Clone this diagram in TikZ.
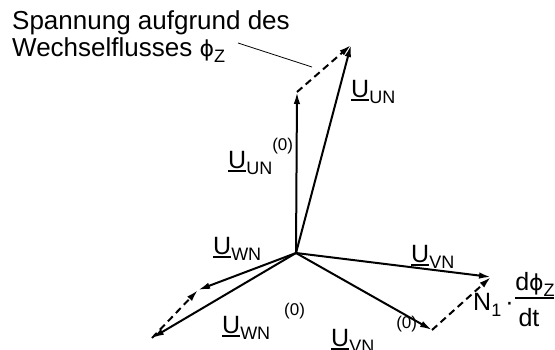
\documentclass[tikz,border=0pt]{standalone}
\usepackage{fontspec}
\setmainfont{Liberation Sans}
\newfontfamily\greekfont{DejaVu Sans}
\usetikzlibrary{arrows.meta}

% underlined phasor letter
\newcommand\ubar[1]{\setbox0\hbox{#1}\rlap{\rule[-4pt]{\wd0}{1.8pt}}\box0}
\newcommand\psub[1]{\raisebox{-6.5pt}{\fontsize{18}{18}\selectfont #1}}
\newcommand\psup[2]{\hspace{#1}\raisebox{18pt}{\fontsize{17}{17}\selectfont #2}}
\newcommand\fluxphi{{\greekfont\fontsize{22}{22}\selectfont ϕ}}

\tikzset{
  x=1pt, y=-1pt,
  phasor/.style={line width=2pt, -{Latex[length=12pt,width=6.5pt]}},
  delta/.style={phasor, dash pattern=on 7pt off 4.5pt},
  lab/.style={inner sep=0pt, anchor=base west, font=\fontsize{25}{25}\selectfont},
}

\begin{document}
\begin{tikzpicture}
\useasboundingbox (0,0) rectangle (555,349);

% star point and phasor tips
\coordinate (N)   at (296,253);
\coordinate (U0)  at (297,92);
\coordinate (U)   at (351,45);
\coordinate (V0)  at (432,330);
\coordinate (V)   at (491,277);
\coordinate (W0)  at (152,338);
\coordinate (W)   at (198,290);

% unloaded phasors
\draw[phasor] (N) -- (U0);
\draw[phasor] (N) -- (V0);
\draw[phasor] (N) -- (W0);
% loaded phasors
\draw[phasor] (N) -- (U);
\draw[phasor] (N) -- (V);
\draw[phasor] (N) -- (W);
% induced voltage of the zero-sequence flux
\draw[delta] (U0) -- (U);
\draw[delta] (V0) -- (V);
\draw[delta] (W0) -- (W);

% explanatory text with leader
\node[inner sep=0pt, anchor=north west, align=left,
      font=\fontsize{26}{27}\selectfont] (txt) at (12,10)
  {Spannung aufgrund des\\Wechselflusses \fluxphi\psub{Z}};
\coordinate (lead) at (312,67);
\draw[line width=0.8pt] (238,43) -- (lead);

% phasor labels
\node[lab] (lU0) at (228,168) {\ubar{U}\psub{UN}\psup{0pt}{(0)}};
\node[lab] (lU)  at (351,97)  {\ubar{U}\psub{UN}};
\node[lab] (lW)  at (213,254) {\ubar{U}\psub{WN}};
\node[lab] (lW0) at (222,333) {\ubar{U}\psub{WN}\psup{14pt}{(0)}};
\node[lab] (lV0) at (331,346) {\ubar{U}\psub{VN}\psup{22pt}{(0)}};
\node[lab] (lV)  at (411,262) {\ubar{U}\psub{VN}};

% derivative term N_1 * dphi/dt
\node[lab] (lN) at (473,310) {N\psub{1}\,·};
\node[lab, anchor=base] (num) at (535,290) {d\fluxphi\psub{Z}};
\node[lab, anchor=base] (den) at (529,326) {dt};
\draw[line width=1.5pt] (515,298) -- (554,298);
\end{tikzpicture}
\end{document}
